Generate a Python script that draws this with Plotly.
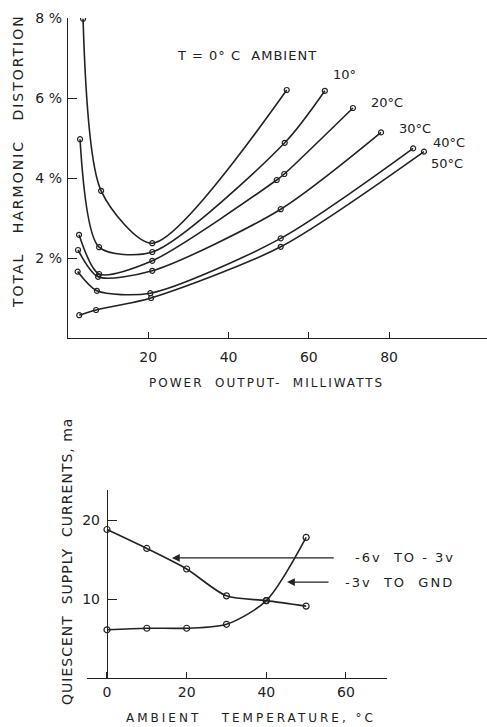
import plotly.graph_objects as go

# ---------------- Top chart: THD vs power output ----------------
thd_labels = ["T = 0° C  AMBIENT", "10°", "20°C", "30°C", "40°C", "50°C"]
p_0 = [3.75, 8.25, 21, 54.5]
d_0 = [7.98, 3.68, 2.37, 6.2]
p_10 = [3.0, 7.75, 21, 54, 64]
d_10 = [4.97, 2.27, 2.15, 4.88, 6.18]
p_20 = [2.75, 7.75, 21, 52, 53.9, 71]
d_20 = [2.58, 1.6, 1.93, 3.95, 4.1, 5.75]
p_30 = [2.5, 7.5, 21, 53, 78]
d_30 = [2.2, 1.53, 1.68, 3.22, 5.14]
p_40 = [2.4, 7.2, 20.5, 53, 86]
d_40 = [1.66, 1.18, 1.12, 2.49, 4.74]
p_50 = [2.8, 7.0, 20.7, 53, 88.7]
d_50 = [0.57, 0.7, 1.0, 2.28, 4.66]

thd_ticks = [2, 4, 6, 8]
thd_ticktext = ["2 %", "4 %", "6 %", "8 %"]
power_ticks = [20, 40, 60, 80]

# ---------------- Bottom chart: supply currents vs temperature ----------------
temps = [0, 10, 20, 30, 40, 50]
i_6to3 = [18.8, 16.4, 13.8, 10.4, 9.8, 9.1]
i_3gnd = [6.1, 6.3, 6.3, 6.8, 9.8, 17.8]
current_ticks = [10, 20]
temp_ticks = [0, 20, 40, 60]
series_names = ["-6v  TO - 3v", "-3v  TO  GND"]

FONT = "DejaVu Sans"
INK = "#222222"

fig = go.Figure()

top_series = [(p_0, d_0), (p_10, d_10), (p_20, d_20), (p_30, d_30), (p_40, d_40), (p_50, d_50)]
for (xs, ys), name in zip(top_series, thd_labels):
    fig.add_trace(go.Scatter(
        x=xs, y=ys, mode="lines+markers", name=name,
        line=dict(color=INK, width=1.6, shape="spline", smoothing=0.75),
        marker=dict(symbol="circle-open", size=5, color=INK, line=dict(width=1.2)),
        xaxis="x", yaxis="y", showlegend=False,
    ))

for xs, ys, name in [(temps, i_6to3, series_names[0]), (temps, i_3gnd, series_names[1])]:
    fig.add_trace(go.Scatter(
        x=xs, y=ys, mode="lines+markers", name=name,
        line=dict(color=INK, width=1.6, shape="spline", smoothing=0.8),
        marker=dict(symbol="circle-open", size=6, color=INK, line=dict(width=1.2)),
        xaxis="x2", yaxis="y2", showlegend=False,
    ))

W, H = 487, 727
NB = "\u00a0"

def ls(t, sp=2):
    return '<span style="letter-spacing:%spx">%s</span>' % (sp, t)

annotations = []
# curve labels (top)
label_pos = [(44.5, 7.07), (69, 6.58), (79.5, 5.9), (86.5, 5.25), (95, 4.9), (94.5, 4.375)]
for i, (txt, (ax_, ay_)) in enumerate(zip(thd_labels, label_pos)):
    annotations.append(dict(x=ax_, y=ay_, xref="x", yref="y",
                            text=ls(txt, 1) if i == 0 else txt, showarrow=False,
                            xanchor="center", yanchor="middle",
                            font=dict(family=FONT, size=13, color=INK)))
# axis titles (top)
annotations.append(dict(x=18 / W, y=1 - 161 / H, xref="paper", yref="paper",
                        xanchor="center", yanchor="middle",
                        text=ls("TOTAL" + NB * 3 + "HARMONIC" + NB * 3 + "DISTORTION", 2), textangle=-90,
                        showarrow=False, font=dict(family=FONT, size=14, color=INK)))
annotations.append(dict(x=266 / W, y=1 - 383 / H, xref="paper", yref="paper",
                        xanchor="center", yanchor="middle",
                        text=ls("POWER" + NB * 2 + "OUTPUT-" + NB * 2 + "MILLIWATTS", 2),
                        showarrow=False, font=dict(family=FONT, size=12, color=INK)))
# axis titles (bottom)
annotations.append(dict(x=67 / W, y=1 - 562 / H, xref="paper", yref="paper",
                        xanchor="center", yanchor="middle",
                        text=ls("QUIESCENT" + NB * 2 + "SUPPLY" + NB * 2 + "CURRENTS," + NB + "ma", 1), textangle=-90,
                        showarrow=False, font=dict(family=FONT, size=14, color=INK)))
annotations.append(dict(x=251 / W, y=1 - 718 / H, xref="paper", yref="paper",
                        xanchor="center", yanchor="middle",
                        text=ls("AMBIENT" + NB * 3 + "TEMPERATURE," + NB + "°C", 3),
                        showarrow=False, font=dict(family=FONT, size=12, color=INK)))
# arrows (bottom)
annotations.append(dict(x=16.3, y=15.2, ax=57.3, ay=15.2, xref="x2", yref="y2", axref="x2", ayref="y2",
                        text="", showarrow=True, arrowhead=2, arrowsize=1.2, arrowwidth=1.3, arrowcolor=INK))
annotations.append(dict(x=45.2, y=12.15, ax=56.0, ay=12.15, xref="x2", yref="y2", axref="x2", ayref="y2",
                        text="", showarrow=True, arrowhead=2, arrowsize=1.2, arrowwidth=1.3, arrowcolor=INK))
annotations.append(dict(x=353 / W, y=15.2, xref="paper", yref="y2", xanchor="left", yanchor="middle",
                        text=ls(series_names[0], 2),
                        showarrow=False, font=dict(family=FONT, size=13, color=INK)))
annotations.append(dict(x=343 / W, y=12.15, xref="paper", yref="y2", xanchor="left", yanchor="middle",
                        text=ls(series_names[1], 2),
                        showarrow=False, font=dict(family=FONT, size=13, color=INK)))

axis_common = dict(showgrid=False, zeroline=False, showline=True, linecolor=INK, linewidth=1.4,
                   ticks="inside", tickcolor=INK, tickwidth=1.2, automargin=False,
                   tickfont=dict(family=FONT, size=14, color=INK))

fig.update_layout(
    width=W, height=H,
    margin=dict(l=0, r=0, t=0, b=0, autoexpand=False),
    paper_bgcolor="white", plot_bgcolor="white",
    showlegend=False,
    xaxis=dict(domain=[68 / W, 1.0], range=[0, 104.4], anchor="y",
               tickvals=power_ticks, ticklen=6, ticklabelstandoff=6, **axis_common),
    yaxis=dict(domain=[1 - 338 / H, 1 - 18 / H], range=[0, 8], anchor="x",
               tickvals=thd_ticks, ticktext=thd_ticktext, ticklen=9, ticklabelstandoff=2, **axis_common),
    xaxis2=dict(domain=[87 / W, 387 / W], range=[-5.02, 70.3], anchor="y2",
                tickvals=temp_ticks, ticklen=6, ticklabelstandoff=1, **axis_common),
    yaxis2=dict(domain=[1 - 678 / H, 1 - 490 / H], range=[0, 23.8], anchor="free", position=107 / W,
                tickvals=current_ticks, ticklen=9, ticklabelstandoff=4, **axis_common),
    annotations=annotations,
)

fig.write_html("out.html",
               config={"displayModeBar": False},
               post_script="document.body.style.margin='0';document.body.style.padding='0';"
                           "document.body.style.overflow='hidden';")
